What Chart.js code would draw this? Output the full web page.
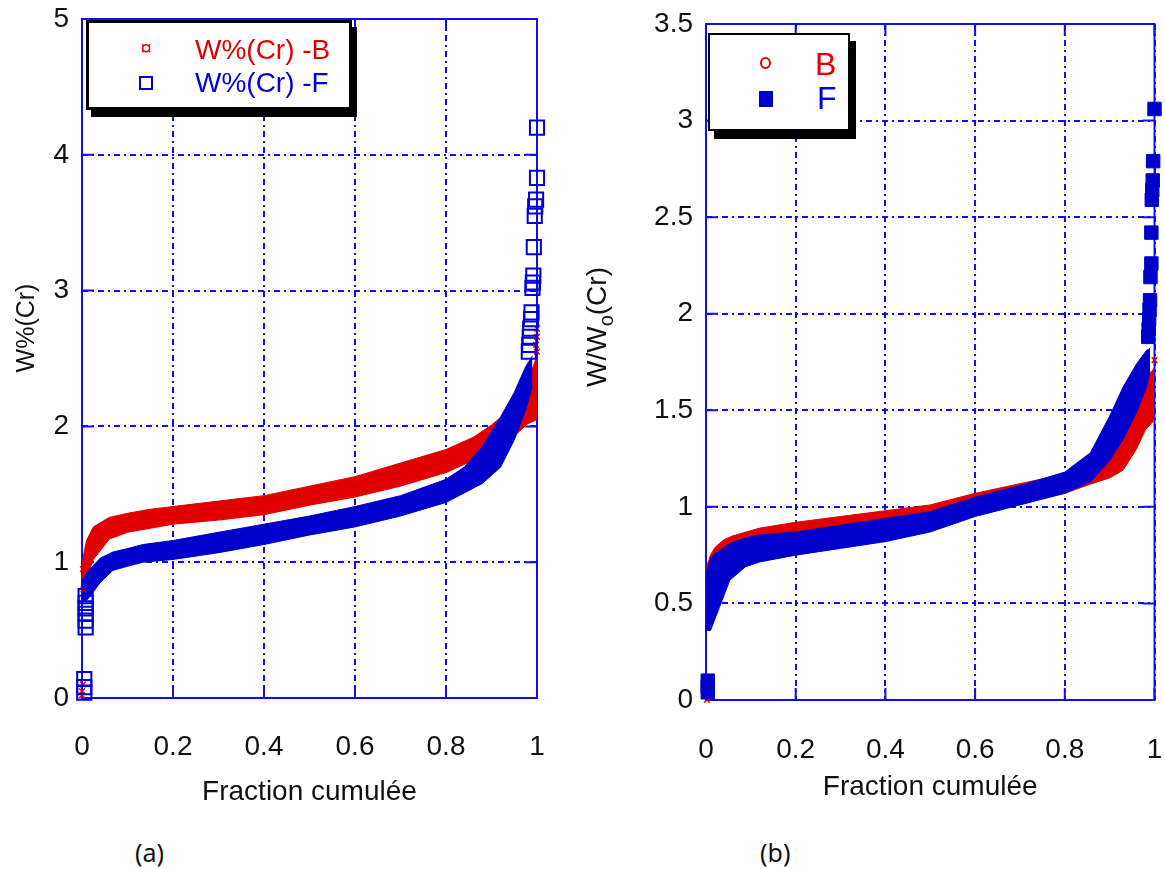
<!DOCTYPE html>
<html>
<head>
<meta charset="utf-8">
<script src="https://cdn.jsdelivr.net/npm/chart.js@4.4.0/dist/chart.umd.min.js"></script>
<style>
  body { margin: 0; background: #fff; width: 1165px; height: 869px; position: relative; overflow: hidden;
         font-family: "Liberation Sans", Arial, sans-serif; }
  .wrap { position: absolute; top: 0; }
  .box { position: absolute; background: #fff; border: 2px solid #000; box-sizing: border-box; }
  .txt { position: absolute; white-space: nowrap; line-height: 1; }
  .ytitle { position: absolute; width: 240px; height: 32px; line-height: 32px; text-align: center;
            color: #111; transform: rotate(-90deg); white-space: nowrap; }
  .tag { position: absolute; font-family: "Noto Sans", sans-serif; font-size: 25px; line-height: 1; color: #111; }
</style>
</head>
<body>
<div class="wrap" style="left:0"><canvas id="chart-a" width="560" height="820"></canvas></div>
<div class="wrap" style="left:580px"><canvas id="chart-b" width="585" height="820"></canvas></div>

<!-- axis titles on the value side -->
<div class="ytitle" style="left:-95px;top:312px;font-size:25px">W%(Cr)</div>
<div class="ytitle" style="left:477px;top:311px;font-size:28px">W/W<sub style="font-size:20px">o</sub>(Cr)</div>

<!-- legends -->
<div class="box" style="left:86px;top:20px;width:266px;height:90px;border-width:3px;box-shadow:5px 7px 0 #000"></div>
<div class="txt" style="left:138px;top:38px;width:16px;text-align:center;font-size:20px;color:#e00000">&curren;</div>
<div class="txt" style="left:195px;top:36px;font-size:28px;color:#e00000">W%(Cr) -B</div>
<div style="position:absolute;left:139px;top:76px;width:14px;height:14px;border:2px solid #0000dd;box-sizing:border-box"></div>
<div class="txt" style="left:195px;top:69px;font-size:28px;color:#0000dd">W%(Cr) -F</div>

<div class="box" style="left:708px;top:33px;width:142px;height:98px;box-shadow:6px 8px 0 #000"></div>
<div style="position:absolute;left:760px;top:57px;width:11px;height:12px;border:2px solid #e00000;border-radius:50%;box-sizing:border-box"></div>
<div class="txt" style="left:815px;top:48px;font-size:32px;color:#e00000">B</div>
<div style="position:absolute;left:759px;top:91px;width:14px;height:16px;background:#0000cc"></div>
<div class="txt" style="left:817px;top:82px;font-size:32px;color:#0000dd">F</div>

<div class="tag" style="left:135px;top:840px">(a)</div>
<div class="tag" style="left:760px;top:840px">(b)</div>

<script>
// ---- (a) W%(Cr) vs fraction cumulée ----
const fracBa   = [0, 0.005, 0.01, 0.025, 0.06, 0.1, 0.15, 0.2, 0.3, 0.4, 0.5, 0.6, 0.7, 0.8, 0.86, 0.9, 0.95, 0.98, 1];
const crBaHigh = [0.98, 1.08, 1.16, 1.26, 1.33, 1.36, 1.39, 1.41, 1.45, 1.49, 1.56, 1.63, 1.73, 1.83, 1.92, 2.01, 2.15, 2.33, 2.52];
const crBaLow  = [0.72, 0.78, 0.88, 1.02, 1.17, 1.22, 1.25, 1.28, 1.31, 1.35, 1.42, 1.48, 1.56, 1.66, 1.75, 1.80, 1.93, 2.02, 2.05];

const fracFa   = [0, 0.005, 0.01, 0.018, 0.04, 0.068, 0.1, 0.134, 0.2, 0.3, 0.4, 0.5, 0.6, 0.7, 0.8, 0.84, 0.88, 0.92, 0.95, 0.975, 0.99];
const crFaHigh = [0.86, 0.89, 0.92, 0.95, 1.03, 1.075, 1.10, 1.13, 1.16, 1.22, 1.28, 1.34, 1.41, 1.49, 1.61, 1.70, 1.85, 2.07, 2.25, 2.44, 2.52];
const crFaLow  = [0.72, 0.72, 0.72, 0.75, 0.85, 0.94, 0.97, 1.00, 1.02, 1.07, 1.13, 1.20, 1.26, 1.34, 1.44, 1.51, 1.58, 1.70, 1.90, 2.12, 2.30];

// isolated markers at both ends
const outBaX = [0, 0, 0.002, 0.003, 0.002, 1, 1, 0.998, 1];
const outBaY = [0.02, 0.05, 0.10, 0.80, 0.95, 2.72, 2.66, 2.60, 2.55];
const outFaX = [0.008, 0.008, 0.008, 0.008, 0.008, 0.008, 0.005, 0.005, 0.005,
                1, 1, 0.998, 0.996, 0.995, 0.993, 0.992, 0.991, 0.99, 0.988, 0.987, 0.985, 0.984, 0.983, 0.982];
const outFaY = [0.75, 0.70, 0.66, 0.62, 0.57, 0.52, 0.14, 0.08, 0.04,
                4.2, 3.83, 3.67, 3.62, 3.55, 3.32, 3.11, 3.06, 3.02, 2.84, 2.79, 2.72, 2.66, 2.60, 2.55];

// ---- (b) W/Wo(Cr) vs fraction cumulée ----
const fracBb  = [0, 0.01, 0.02, 0.04, 0.06, 0.12, 0.2, 0.3, 0.4, 0.5, 0.6, 0.7, 0.8, 0.86, 0.9, 0.93, 0.96, 0.98, 1];
const wBbHigh = [0.68, 0.75, 0.79, 0.83, 0.85, 0.89, 0.92, 0.95, 0.98, 1.01, 1.07, 1.12, 1.17, 1.22, 1.32, 1.40, 1.59, 1.66, 1.72];
const wBbLow  = [0.45, 0.55, 0.65, 0.72, 0.74, 0.78, 0.80, 0.84, 0.87, 0.92, 0.97, 1.02, 1.07, 1.12, 1.15, 1.19, 1.30, 1.40, 1.45];

const fracFb  = [0, 0.01, 0.02, 0.03, 0.053, 0.088, 0.12, 0.2, 0.3, 0.4, 0.5, 0.6, 0.7, 0.8, 0.857, 0.9, 0.93, 0.96, 0.982, 0.99];
const wFbHigh = [0.66, 0.73, 0.76, 0.77, 0.81, 0.84, 0.855, 0.87, 0.905, 0.94, 0.975, 1.05, 1.11, 1.18, 1.28, 1.47, 1.62, 1.74, 1.81, 1.82];
const wFbLow  = [0.36, 0.36, 0.42, 0.48, 0.62, 0.69, 0.715, 0.75, 0.785, 0.82, 0.87, 0.95, 1.01, 1.07, 1.13, 1.24, 1.35, 1.49, 1.62, 1.70];

const outBbX = [1, 0.002, 0.004];
const outBbY = [1.76, 0.0, 0.01];
const outFbX = [1, 0.997, 0.996, 0.995, 0.994, 0.993, 0.993, 0.991, 0.99, 0.989, 0.988, 0.987, 0.986, 0.004, 0.004, 0.004];
const outFbY = [3.06, 2.79, 2.69, 2.64, 2.59, 2.42, 2.26, 2.19, 2.07, 2.02, 1.97, 1.92, 1.88, 0.10, 0.07, 0.04];

// tick labels
const fracTicks = [0, 0.2, 0.4, 0.6, 0.8, 1];
const crTicks = [0, 1, 2, 3, 4, 5];
const wTicks = [0, 0.5, 1, 1.5, 2, 2.5, 3, 3.5];

const RED = '#e00000', BLUE = '#0000cc', AXIS = '#1010ee';

function pts(xs, ys) {
  return xs.map((x, i) => ({ x: x, y: ys[i] }));
}

// box round the plot + short ticks pointing inwards on every side
const frame = {
  id: 'frame',
  beforeDatasetsDraw(chart) {
    const { ctx, chartArea: a, scales: { x, y } } = chart;
    ctx.save();
    ctx.strokeStyle = AXIS;
    ctx.lineWidth = 2;
    ctx.strokeRect(a.left, a.top, a.right - a.left, a.bottom - a.top);
    ctx.beginPath();
    x.ticks.forEach(t => {
      const px = x.getPixelForValue(t.value);
      ctx.moveTo(px, a.bottom); ctx.lineTo(px, a.bottom - 12);
      ctx.moveTo(px, a.top); ctx.lineTo(px, a.top + 12);
    });
    y.ticks.forEach(t => {
      const py = y.getPixelForValue(t.value);
      ctx.moveTo(a.left, py); ctx.lineTo(a.left + 12, py);
      ctx.moveTo(a.right, py); ctx.lineTo(a.right - 12, py);
    });
    ctx.stroke();
    ctx.restore();
  }
};

function band(xs, low, high, color, order) {
  return [
    { data: pts(xs, low), borderColor: color, borderWidth: 1, pointRadius: 0, fill: false, order: order + 1 },
    { data: pts(xs, high), borderColor: color, borderWidth: 1, backgroundColor: color, pointRadius: 0, fill: '-1', order: order }
  ];
}

function makeChart(id, o) {
  const tickFont = { family: 'Liberation Sans', size: 28 };
  return new Chart(document.getElementById(id), {
    type: 'line',
    data: { datasets: o.datasets },
    options: {
      responsive: false,
      animation: false,
      layout: { padding: o.padding },
      plugins: { legend: { display: false }, tooltip: { enabled: false } },
      scales: {
        x: {
          type: 'linear', min: 0, max: 1,
          afterBuildTicks: s => { s.ticks = fracTicks.map(v => ({ value: v })); },
          afterFit: s => { s.height = o.xHeight; s.paddingLeft = 0; s.paddingRight = 0; },
          ticks: { font: tickFont, color: '#111', padding: o.xTickPad, callback: v => String(v) },
          grid: { color: AXIS, lineWidth: 2, drawTicks: false },
          border: { display: false, dash: [6, 4, 2, 4] },
          title: { display: true, text: 'Fraction cumulée', color: '#111',
                   font: { family: 'Liberation Sans', size: 28 }, padding: { bottom: o.xTitlePad } }
        },
        y: {
          min: 0, max: o.yMax,
          afterBuildTicks: s => { s.ticks = o.yTicks.map(v => ({ value: v })); },
          afterFit: s => { s.width = o.yWidth; s.paddingTop = 0; s.paddingBottom = 0; },
          ticks: { font: tickFont, color: '#111', padding: 13, callback: v => String(v) },
          grid: { color: AXIS, lineWidth: 2, drawTicks: false },
          border: { display: false, dash: [6, 4, 2, 4] }
        }
      }
    },
    plugins: [frame]
  });
}

makeChart('chart-a', {
  padding: { top: 19, right: 23, left: 0, bottom: 0 },
  xHeight: 122, yWidth: 82, xTickPad: 32, xTitlePad: 11,
  yMax: 5, yTicks: crTicks,
  datasets: [
    ...band(fracBa, crBaLow, crBaHigh, RED, 4),
    ...band(fracFa, crFaLow, crFaHigh, BLUE, 2),
    { data: pts(outBaX, outBaY), showLine: false, pointStyle: 'crossRot', pointRadius: 4,
      borderColor: RED, borderWidth: 1.5, clip: false, order: 1 },
    { data: pts(outFaX, outFaY), showLine: false, pointStyle: 'rect', pointRadius: 10,
      borderColor: '#0000dd', backgroundColor: 'rgba(0,0,0,0)', borderWidth: 2, clip: false, order: 0 }
  ]
});

makeChart('chart-b', {
  padding: { top: 24, right: 8, left: 0, bottom: 0 },
  xHeight: 120, yWidth: 126, xTickPad: 33, xTitlePad: 16,
  yMax: 3.5, yTicks: wTicks,
  datasets: [
    ...band(fracBb, wBbLow, wBbHigh, RED, 4),
    ...band(fracFb, wFbLow, wFbHigh, BLUE, 2),
    { data: pts(outBbX, outBbY), showLine: false, pointStyle: 'crossRot', pointRadius: 4,
      borderColor: RED, borderWidth: 1.5, clip: false, order: 1 },
    { data: pts(outFbX, outFbY), showLine: false, pointStyle: 'rect', pointRadius: 9.5,
      borderColor: BLUE, backgroundColor: BLUE, borderWidth: 1, clip: false, order: 0 }
  ]
});
</script>
</body>
</html>
